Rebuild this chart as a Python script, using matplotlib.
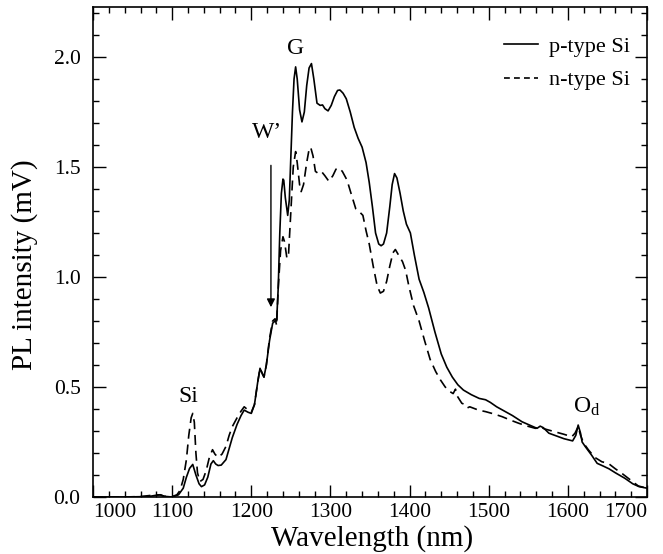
import matplotlib
matplotlib.use("Agg")
import matplotlib.pyplot as plt
from matplotlib.ticker import MultipleLocator, FormatStrFormatter

plt.rcParams['font.family'] = ['Liberation Serif', 'DejaVu Serif']
plt.rcParams['mathtext.fontset'] = 'custom'
plt.rcParams['mathtext.rm'] = 'Liberation Serif'
plt.rcParams['mathtext.it'] = 'Liberation Serif:italic'

# p-type Si (solid)
p_wl = [1000, 1040, 1070, 1080, 1085, 1090, 1100, 1108, 1114, 1118, 1122, 1126, 1130, 1134, 1137,
        1141, 1145, 1149, 1152, 1155, 1158, 1162, 1168, 1172, 1176, 1182, 1187, 1191, 1196, 1200,
        1204, 1208, 1211, 1214, 1216, 1219, 1223, 1227, 1230, 1232, 1234, 1236, 1238, 1240, 1241,
        1243, 1246, 1248, 1250, 1252, 1254, 1256, 1258, 1261, 1264, 1267, 1270, 1273, 1276, 1279,
        1283, 1287, 1290, 1293, 1297, 1301, 1305, 1309, 1312, 1316, 1320, 1325, 1330, 1335, 1340,
        1345, 1349, 1353, 1357, 1361, 1364, 1367, 1371, 1375, 1378, 1381, 1384, 1388, 1392, 1396,
        1401, 1406, 1412, 1418, 1424, 1432, 1440, 1447, 1454, 1461, 1468, 1478, 1488, 1496, 1502,
        1510, 1520, 1530, 1542, 1552, 1561, 1565, 1569, 1576, 1585, 1595, 1606, 1610, 1613, 1616,
        1618, 1622, 1630, 1637, 1645, 1652, 1660, 1672, 1682, 1690, 1700]
p_pl = [0.0, 0.0, 0.002, 0.008, 0.01, 0.003, 0.0, 0.01, 0.04, 0.09, 0.13, 0.148, 0.10, 0.06, 0.047,
        0.055, 0.09, 0.15, 0.165, 0.15, 0.143, 0.145, 0.17, 0.22, 0.27, 0.33, 0.37, 0.395, 0.385, 0.38,
        0.42, 0.52, 0.585, 0.56, 0.545, 0.60, 0.71, 0.79, 0.80, 0.80, 0.95, 1.20, 1.38, 1.445, 1.44,
        1.36, 1.28, 1.35, 1.55, 1.75, 1.90, 1.955, 1.90, 1.76, 1.705, 1.75, 1.87, 1.95, 1.97, 1.90,
        1.79, 1.78, 1.782, 1.765, 1.755, 1.78, 1.82, 1.848, 1.85, 1.835, 1.81, 1.75, 1.68, 1.63, 1.59,
        1.52, 1.43, 1.32, 1.20, 1.15, 1.142, 1.15, 1.20, 1.32, 1.42, 1.47, 1.45, 1.38, 1.30, 1.24,
        1.20, 1.10, 0.99, 0.93, 0.86, 0.75, 0.65, 0.59, 0.545, 0.51, 0.486, 0.465, 0.448, 0.442, 0.43,
        0.41, 0.39, 0.37, 0.342, 0.326, 0.312, 0.322, 0.315, 0.29, 0.278, 0.265, 0.255, 0.28, 0.327, 0.29,
        0.25, 0.229, 0.19, 0.153, 0.14, 0.128, 0.11, 0.085, 0.06, 0.047, 0.04]

# n-type Si (dashed)
n_wl = [1000, 1040, 1060, 1075, 1085, 1090, 1100, 1106, 1110, 1114, 1118, 1121, 1124, 1126, 1128,
        1130, 1132, 1135, 1139, 1143, 1147, 1151, 1154, 1158, 1163, 1168, 1172, 1176, 1182, 1187,
        1191, 1196, 1200, 1204, 1208, 1211, 1214, 1216, 1219, 1223, 1227, 1230, 1232, 1234, 1237,
        1240, 1242, 1245, 1247, 1250, 1253, 1256, 1258, 1261, 1263, 1266, 1270, 1273, 1275, 1278,
        1281, 1285, 1289, 1293, 1298, 1303, 1307, 1311, 1315, 1321, 1326, 1332, 1337, 1341, 1345,
        1349, 1354, 1359, 1363, 1367, 1371, 1375, 1379, 1382, 1386, 1391, 1395, 1399, 1405, 1412,
        1419, 1426, 1433, 1439, 1445, 1451, 1455, 1458, 1460, 1466, 1470, 1473, 1476, 1487, 1496,
        1506, 1517, 1527, 1538, 1549, 1559, 1565, 1570, 1583, 1595, 1605, 1609, 1613, 1616, 1620,
        1626, 1634, 1643, 1651, 1660, 1668, 1680, 1689, 1700]
n_pl = [0.0, 0.0, 0.002, 0.008, 0.01, 0.003, 0.002, 0.01, 0.03, 0.08, 0.17, 0.28, 0.36, 0.38, 0.34,
        0.20, 0.11, 0.07, 0.08, 0.12, 0.18, 0.215, 0.195, 0.18, 0.195, 0.23, 0.28, 0.32, 0.36, 0.39,
        0.41, 0.395, 0.385, 0.42, 0.52, 0.585, 0.56, 0.545, 0.60, 0.72, 0.80, 0.81, 0.78, 0.95, 1.12,
        1.183, 1.16, 1.085, 1.10, 1.30, 1.50, 1.57, 1.52, 1.42, 1.388, 1.42, 1.52, 1.58, 1.59, 1.55,
        1.48, 1.47, 1.478, 1.46, 1.435, 1.46, 1.49, 1.495, 1.48, 1.44, 1.38, 1.31, 1.295, 1.28, 1.21,
        1.15, 1.05, 0.96, 0.927, 0.935, 0.98, 1.05, 1.11, 1.125, 1.10, 1.07, 1.03, 0.96, 0.87, 0.80,
        0.71, 0.625, 0.57, 0.532, 0.50, 0.479, 0.47, 0.49, 0.46, 0.426, 0.42, 0.405, 0.41, 0.395, 0.388,
        0.378, 0.365, 0.35, 0.335, 0.322, 0.312, 0.32, 0.31, 0.297, 0.285, 0.274, 0.29, 0.32, 0.28, 0.244,
        0.214, 0.18, 0.16, 0.153, 0.128, 0.108, 0.075, 0.05, 0.04]

series_labels = ['p-type Si', 'n-type Si']
x_ticks = [1000, 1100, 1200, 1300, 1400, 1500, 1600, 1700]
y_ticks = [0.0, 0.5, 1.0, 1.5, 2.0]

fig = plt.figure(figsize=(6.63, 5.54), dpi=100)
ax = fig.add_axes([0.1403, 0.1029, 0.8356, 0.8836])

ax.plot(p_wl, p_pl, color='black', lw=1.2, ls='-', label=series_labels[0])
ax.plot(n_wl, n_pl, color='black', lw=1.2, ls=(0, (6, 3.5)), label=series_labels[1])

ax.set_xlim(1000, 1700)
ax.set_ylim(0, 2.225)
ax.set_xticks(x_ticks)
ax.set_yticks(y_ticks)
ax.xaxis.set_minor_locator(MultipleLocator(20))
ax.yaxis.set_minor_locator(MultipleLocator(0.1))
ax.yaxis.set_major_formatter(FormatStrFormatter('%.1f'))
ax.tick_params(which='both', direction='in', top=True, right=True, labelsize=15.5, width=1.0)
ax.tick_params(which='major', length=9)
ax.tick_params(which='minor', length=4.5)
ax.tick_params(axis='y', pad=9)
ax.tick_params(axis='x', pad=4)
xl = ax.get_xticklabels()
xl[0].set_horizontalalignment('left')
xl[-1].set_horizontalalignment('right')
for s in ax.spines.values():
    s.set_linewidth(1.2)

ax.set_xlabel('Wavelength (nm)', fontsize=21)
ax.set_ylabel('PL intensity (mV)', fontsize=21)
ax.xaxis.set_label_coords(0.5045, -0.084)
ax.xaxis.label.set_verticalalignment('center')
ax.yaxis.set_label_coords(-0.123, 0.474)
ax.yaxis.label.set_verticalalignment('center')

ax.text(1256, 2.04, 'G', fontsize=17, ha='center', va='center')
ax.text(1220, 1.655, 'W\u2019', fontsize=17, ha='center', va='center')
ax.text(1120, 0.456, 'Si', fontsize=17, ha='center', va='center')
ax.text(1624, 0.41, 'O$_\\mathregular{d}$', fontsize=17, ha='center', va='center')
ax.annotate('', xy=(1224.8, 0.85), xytext=(1224.8, 1.52),
            arrowprops=dict(arrowstyle='-|>', color='black', lw=1.0, mutation_scale=12))

leg = ax.legend(loc='upper right', fontsize=16, frameon=False, handlelength=1.5,
                handletextpad=0.5, labelspacing=0.6, borderaxespad=0.0,
                bbox_to_anchor=(0.985, 0.96))
leg.get_lines()[1].set_dashes([3.5, 2.5])

fig.savefig('out.png', dpi=100)
